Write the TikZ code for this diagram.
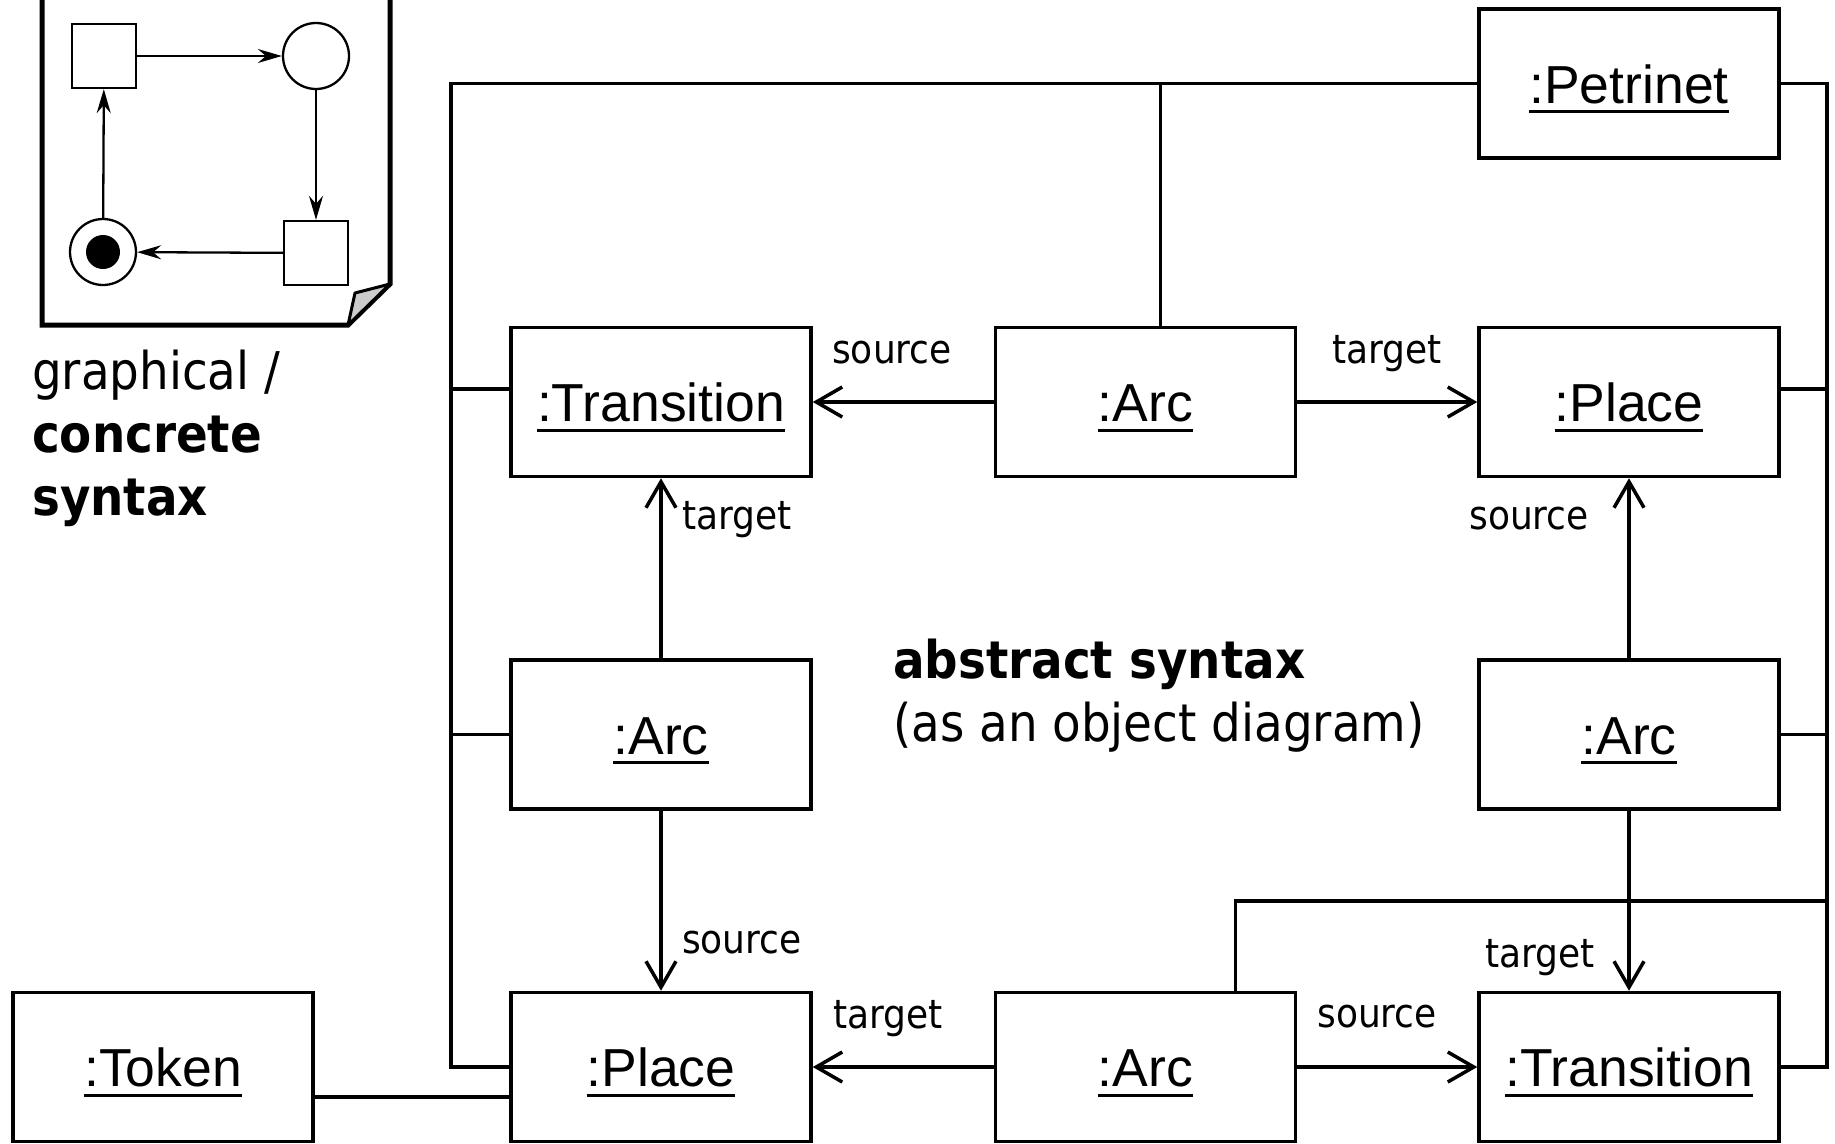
\documentclass[tikz,border=0pt]{standalone}
\usepackage{fontspec}
\setmainfont{Liberation Sans}
\newfontfamily\tahoma[FakeStretch=0.9]{DejaVu Sans}
\usetikzlibrary{arrows.meta}
\newcommand\objname[1]{\setbox0\hbox{#1}\copy0\kern-\wd0\raisebox{-10pt}{\rule{\wd0}{3pt}}}

\begin{document}
\begin{tikzpicture}[x=1pt, y=-1pt,
    obj/.style={draw, line width=3.5pt, minimum width=300pt, minimum height=149pt, inner sep=0pt,
      text height=39pt, text depth=0pt, font=\fontsize{53.5}{60}\selectfont},
    conn/.style={line width=3.5pt},
    arr/.style={line width=3.5pt, -{Straight Barb[length=26pt,width=30pt]}},
    lbl/.style={font=\tahoma\fontsize{40}{48}\selectfont, inner sep=0pt},
    note/.style={font=\tahoma\fontsize{52}{63}\selectfont, align=left, inner sep=0pt},
    pnode/.style={draw, line width=2.3pt, inner sep=0pt},
    parr/.style={line width=2.3pt, -{Stealth[length=24pt,width=14pt,inset=8pt]}}
]
\useasboundingbox (0,0) rectangle (1835,1143);

% concrete syntax (sheet with a small net)
\draw[line width=5pt] (42,-10) -- (42,325) -- (348,325) -- (390,284) -- (390,-10);
\draw[line width=3pt, fill=gray!40, line join=round] (348,325) -- (355,293) -- (390,284) -- cycle;
\node[pnode, minimum size=64pt] (t1) at (104,56) {};
\node[pnode, circle, minimum size=66pt] (p1) at (316,56) {};
\node[pnode, minimum size=64pt] (t2) at (316,253) {};
\node[pnode, circle, minimum size=66pt] (p2) at (103,252) {};
\node[fill, circle, minimum size=34pt, inner sep=0pt] (tok) at (p2) {};
\draw[parr] (t1) -- (p1);
\draw[parr] (p1) -- (t2);
\draw[parr] (t2) -- (p2);
\draw[parr] (p2) -- (t1);

\node[note, anchor=base west] (concrete) at (32,515) {graphical /\\\textbf{concrete}\\\textbf{syntax}};
\node[note, anchor=base west] (abstract) at (893,741) {\textbf{abstract syntax}\\(as an object diagram)};

% abstract syntax (objects)
\node[obj] (petri) at (1629,83.5) {\objname{:Petrinet}};
\node[obj] (trans1) at (661,402) {\objname{:Transition}};
\node[obj] (arc1) at (1145.5,402) {\objname{:Arc}};
\node[obj] (place1) at (1629,402) {\objname{:Place}};
\node[obj] (arc2) at (661,734.5) {\objname{:Arc}};
\node[obj] (arc3) at (1629,734.5) {\objname{:Arc}};
\node[obj] (token) at (163,1067) {\objname{:Token}};
\node[obj] (place2) at (661,1067) {\objname{:Place}};
\node[obj] (arc4) at (1145.5,1067) {\objname{:Arc}};
\node[obj] (trans2) at (1629,1067) {\objname{:Transition}};

% containment lines
\coordinate (lbot) at (451,1067);
\coordinate (rbot) at (1827,1067);
\coordinate (rmid) at (1827,901);
\draw[conn] (petri.west) -| (lbot) -- (place2.west);
\draw[conn] (petri.east) -| (rbot) -- (trans2.east);
\draw[conn] ([xshift=15pt]arc1.north) -- ([xshift=15pt]arc1.north |- petri.west);
\draw[conn] ([yshift=13pt]trans1.west) -- ([yshift=13pt]trans1.west -| lbot);
\draw[conn] (arc2.west) -- (arc2.west -| lbot);
\draw[conn] ([yshift=13pt]place1.east) -- ([yshift=13pt]place1.east -| rbot);
\draw[conn] (arc3.east) -- (arc3.east -| rbot);
\draw[conn] ([xshift=90pt]arc4.north) |- (rmid);
\draw[conn] ([yshift=-30pt]token.east) -- ([yshift=-30pt]place2.west);

% source / target links
\draw[arr] (arc1) -- (trans1);
\draw[arr] (arc1) -- (place1);
\draw[arr] (arc2) -- (trans1);
\draw[arr] (arc2) -- (place2);
\draw[arr] (arc3) -- (place1);
\draw[arr] (arc3) -- (trans2);
\draw[arr] (arc4) -- (place2);
\draw[arr] (arc4) -- (trans2);

\node[lbl, anchor=base] (s1) at (892,363) {source};
\node[lbl, anchor=base] (t1l) at (1387,363) {target};
\node[lbl, anchor=base west] (t2l) at (682,529) {target};
\node[lbl, anchor=base east] (s2) at (1589,529) {source};
\node[lbl, anchor=base west] (s3) at (682,953) {source};
\node[lbl, anchor=base east] (t3l) at (1595,967) {target};
\node[lbl, anchor=base] (t4l) at (888,1028) {target};
\node[lbl, anchor=base] (s4) at (1377,1027) {source};
\end{tikzpicture}
\end{document}
